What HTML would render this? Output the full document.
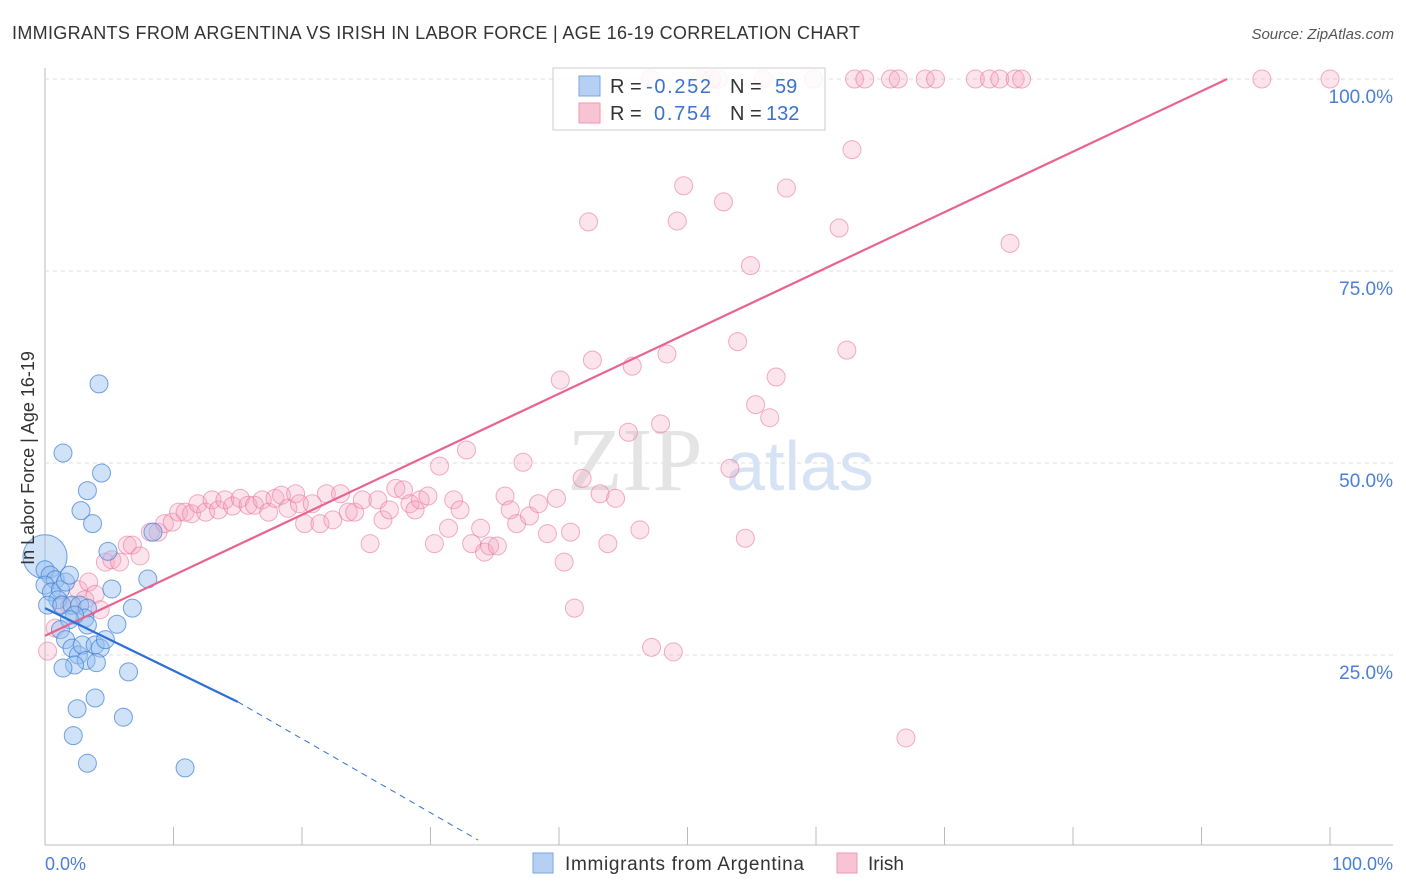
<!DOCTYPE html>
<html><head><meta charset="utf-8"><style>
body{margin:0;background:#fff;font-family:"Liberation Sans",sans-serif;}
svg{display:block}
</style></head><body>
<svg id="chart" width="1406" height="892">
<text x="12" y="39" font-size="18" fill="#333" textLength="848">IMMIGRANTS FROM ARGENTINA VS IRISH IN LABOR FORCE | AGE 16-19 CORRELATION CHART</text>
<text x="1394" y="39" font-size="15" fill="#555" font-style="italic" text-anchor="end">Source: ZipAtlas.com</text>
<g id="grid"></g>
<text x="635" y="490" font-size="90" fill="#e4e4e4" font-family="Liberation Serif,serif" text-anchor="middle">ZIP</text>
<text x="800" y="490" font-size="70" fill="#d6e3f5" text-anchor="middle">atlas</text>
<g id="marks"></g>
<text transform="translate(34,458) rotate(-90)" font-size="18" fill="#333" text-anchor="middle">In Labor Force | Age 16-19</text>
<text x="45" y="870" font-size="18" fill="#4a7fd4">0.0%</text>
<text x="1393" y="870" font-size="18" fill="#4a7fd4" text-anchor="end">100.0%</text>
<g>
<rect x="553" y="68" width="272" height="62" fill="#fff" fill-opacity="0.85" stroke="#ccc"/>
<rect x="579" y="76" width="21" height="20" fill="#b5d0f3" stroke="#7aa6e0"/>
<rect x="579" y="103" width="21" height="20" fill="#f8c4d3" stroke="#eb9ab4"/>
<text x="610" y="93" font-size="20" fill="#333">R =</text><text x="646" y="93" font-size="20" fill="#3a72d0" textLength="65">-0.252</text>
<text x="730" y="93" font-size="20" fill="#333">N =</text><text x="775" y="93" font-size="20" fill="#3a72d0">59</text>
<text x="610" y="120" font-size="20" fill="#333">R =</text><text x="654" y="120" font-size="20" fill="#3a72d0" textLength="57">0.754</text>
<text x="730" y="120" font-size="20" fill="#333">N =</text><text x="766" y="120" font-size="20" fill="#3a72d0">132</text>
</g>
<g>
<rect x="533" y="853" width="20" height="20" fill="#b5d0f3" stroke="#7aa6e0"/>
<text x="565" y="870" font-size="19" fill="#333" textLength="239">Immigrants from Argentina</text>
<rect x="837" y="853" width="20" height="20" fill="#f8c4d3" stroke="#eb9ab4"/>
<text x="868" y="870" font-size="19" fill="#333">Irish</text>
</g>
</svg>
<script>
const yTicks=[25,50,75,100];
const yTickLabels=["25.0%","50.0%","75.0%","100.0%"];
const xTicks=[10,20,30,40,50,60,70,80,90,100];
const blueX=[0,0,0.4,0.8,0,0.5,1.2,1.6,1.9,1.0,0.2,1.3,2.1,2.7,3.3,3.1,3.3,2.3,1.9,1.2,1.6,2.1,2.6,2.9,3.2,3.9,4.3,4.7,2.3,1.4,4.0,4.2,1.4,4.4,3.3,2.8,3.7,4.9,8.0,5.2,6.8,5.6,6.5,3.9,2.5,2.2,6.1,3.3,10.9,8.4];
const blueY=[37.8,36.1,35.4,34.8,34.1,33.2,33.5,34.5,35.4,32.2,31.5,31.5,31.5,31.5,31.1,29.8,28.9,30.2,29.6,28.3,27.0,25.9,25.0,26.3,24.3,26.3,25.9,27.0,23.7,23.3,24.0,60.3,51.3,48.7,46.4,43.8,42.1,38.5,34.9,33.6,31.1,29.0,22.8,19.4,18.0,14.5,16.9,10.9,10.3,41.0];
const pinkX=[0.2,0.8,1.3,1.9,2.6,3.4,3.9,4.3,3.1,4.7,5.2,5.8,6.4,6.8,7.4,8.2,8.8,9.3,9.9,10.4,10.9,11.4,11.9,12.5,13.0,13.5,14.0,14.6,15.2,15.8,16.3,16.9,17.4,17.9,18.4,18.9,19.5,19.8,20.2,20.8,21.4,21.9,22.4,23.0,23.6,24.1,24.7,25.3,25.9,26.3,26.8,27.3,27.9,28.4,28.8,29.2,29.8,30.3,30.7,31.4,31.8,32.3,32.8,33.2,33.9,34.2,34.6,35.2,35.8,36.2,36.7,37.2,37.7,38.4,39.1,39.8,40.1,40.4,40.9,41.2,41.8,42.3,42.6,43.2,43.8,44.4,45.4,45.7,46.3,47.2,47.9,48.4,48.9,49.2,49.7,52.8,53.3,53.9,54.5,54.9,55.3,56.4,56.9,57.7,61.8,62.4,62.8,67.0,75.1,42.8,47.1,51.0,51.9,52.4,55.9,59.8,63.0,63.8,65.8,66.4,68.5,69.3,72.4,73.5,74.3,75.5,76.0,94.7,100];
const pinkY=[25.5,28.5,31.6,31.4,33.5,34.5,32.9,30.9,32.2,37.1,37.4,37.1,39.3,39.3,37.9,41.0,41.0,42.1,42.3,43.6,43.6,43.4,44.7,43.6,45.2,43.9,45.2,44.4,45.4,44.5,44.5,45.2,43.6,45.4,45.8,44.1,46.0,44.7,42.1,44.7,42.1,46.0,42.6,46.0,43.6,43.6,45.2,39.5,45.2,42.6,43.9,46.7,46.5,44.7,43.9,45.2,45.7,39.5,49.6,41.5,45.2,43.9,51.7,39.5,41.5,38.4,39.2,39.2,45.7,43.9,42.1,50.1,43.1,44.7,40.8,45.4,60.8,37.1,41.0,31.1,48.0,81.4,63.4,46.0,39.5,45.4,54.0,62.6,41.3,26.0,55.1,64.2,25.4,81.5,86.1,84.0,49.3,65.8,40.2,75.7,57.6,55.9,61.2,85.8,80.6,64.7,90.8,14.2,78.6,95.1,100,100,100,100,100,100,100,100,100,100,100,100,100,100,100,100,100,100,100];
const pinkLine=[0,27.5,92,100];
const blueLine=[0,31.1,15,18.9,33.7,0.9];
const NS="http://www.w3.org/2000/svg";
const X=v=>45+v*12.85, Y=v=>847-v*7.68;
function mk(t,a,p){const e=document.createElementNS(NS,t);for(const k in a)e.setAttribute(k,a[k]);p.appendChild(e);return e;}
const grid=document.getElementById('grid'),marks=document.getElementById('marks');
let ax=mk('line',{x1:45,y1:68,x2:45,y2:845,stroke:'#bbb'},grid);


let bx=mk('line',{x1:45,y1:845,x2:1393,y2:845,stroke:'#bbb'},grid);


yTicks.forEach((t,i)=>{
 const g=mk('line',{x1:45,y1:Y(t),x2:1393,y2:Y(t),stroke:'#ddd','stroke-dasharray':'4,4'},grid);
 
 
 const l=mk('text',{x:1393,y:Y(t)+24,'font-size':19,fill:'#4a7fd4','text-anchor':'end'},grid);l.textContent=yTickLabels[i];
 
 
});
xTicks.forEach(t=>{
 const k=mk('line',{x1:X(t),y1:827,x2:X(t),y2:845,stroke:'#bbb'},grid);
 
 
});
pinkX.forEach((v,i)=>{
 const c=mk('circle',{cx:X(v),cy:Y(pinkY[i]),r:9,fill:'rgba(244,165,192,0.3)',stroke:'rgba(232,120,158,0.6)','stroke-width':1},marks);
 
 
});
blueX.forEach((v,i)=>{
 const c=mk('circle',{cx:X(v),cy:Y(blueY[i]),r:i==0?22:9,fill:'rgba(150,190,240,0.45)',stroke:'rgba(60,125,215,0.7)','stroke-width':1},marks);
 
 
});
const pl=mk('line',{x1:X(pinkLine[0]),y1:Y(pinkLine[1]),x2:X(pinkLine[2]),y2:Y(pinkLine[3]),stroke:'#e8648f','stroke-width':2.2},marks);


const bl=mk('line',{x1:X(blueLine[0]),y1:Y(blueLine[1]),x2:X(blueLine[2]),y2:Y(blueLine[3]),stroke:'#2e6fd6','stroke-width':2.2},marks);


const bd=mk('line',{x1:X(blueLine[2]),y1:Y(blueLine[3]),x2:X(blueLine[4]),y2:Y(blueLine[5]),stroke:'#2e6fd6','stroke-width':1,'stroke-dasharray':'6,5'},marks);


</script>
</body></html>
